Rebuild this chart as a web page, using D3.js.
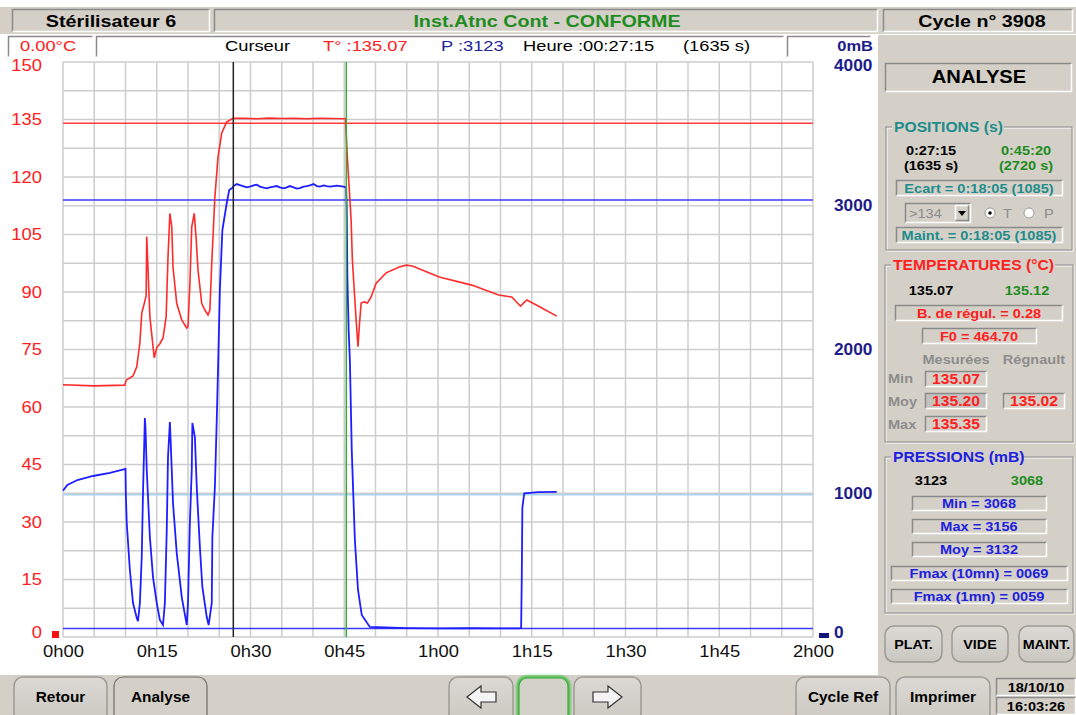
<!DOCTYPE html>
<html>
<head>
<meta charset="utf-8">
<script src="https://cdn.jsdelivr.net/npm/d3@7"></script>
<style>
  body { margin: 0; background: #fff; }
  svg { display: block; font-family: "Liberation Sans", Arial, sans-serif; }
</style>
</head>
<body>
<div id="chart"></div>
<script>
// ---- data (time in minutes) ----
var tempTime = [0, 5, 9.9, 10.1, 11.2, 11.8, 12.3, 12.6, 13.0, 13.3, 13.4, 13.9, 14.6, 15.0, 15.5, 16.0, 16.5, 16.8, 17.1, 17.4, 17.6, 18.2, 19.0, 19.8, 20.0, 20.3, 20.6, 21.0, 21.3, 21.6, 22.2, 22.7, 23.2, 23.5, 23.8, 24.3, 24.8, 25.4, 26.2, 27.2,
  29, 31, 33, 35, 37, 39, 41, 43, 45.2, 45.5, 46.1, 46.3, 46.9, 47.2, 47.4, 47.7, 48.2, 48.7, 49.3, 50.1, 51.7, 53.8, 54.9, 55.9, 60.2, 65.4, 69.7, 71.8, 73.2, 74.2, 76.1, 79.0];
var tempVal = [65.8, 65.5, 65.7, 67.0, 68.1, 70.5, 76.7, 84.5, 87.0, 89.0, 104.5, 83.5, 72.8, 75.5, 76.5, 78.0, 83.5, 99.0, 110.5, 107.0, 96.5, 87.0, 82.7, 80.6, 81.0, 92.0, 107.0, 110.5, 104.0, 95.7, 87.0, 85.3, 84.0, 85.3, 97.5, 114.8, 125.2, 131.5, 134.4, 135.3,
  135.3, 135.2, 135.35, 135.25, 135.3, 135.2, 135.3, 135.25, 135.2, 125.0, 108.8, 98.3, 82.7, 75.7, 80.9, 87.1, 87.4, 87.1, 88.7, 92.3, 95.0, 96.5, 97.0, 96.8, 93.9, 91.8, 89.2, 88.7, 86.3, 87.9, 86.3, 83.7];

var presTime = [0, 0.7, 2.3, 4.8, 7.5, 10.0, 10.05, 10.2, 10.7, 11.2, 11.8, 12.0, 12.3, 12.6, 12.8, 13.1, 13.2, 13.4, 13.9, 14.4, 15.0, 15.5, 16.0, 16.3, 16.6, 16.8, 17.1, 17.2, 17.6, 18.2, 19.0, 19.8, 20.0, 20.3, 20.6, 20.7, 21.1, 21.4, 21.9, 22.3, 23.0, 23.3, 23.8, 23.9, 24.3, 24.6, 24.8, 25.1, 25.5, 26.2, 26.6,
  27.0, 27.3, 27.8, 28.3, 28.8, 29.4, 29.9, 30.5, 31.0, 31.5, 32.1, 32.6, 33.1, 33.7, 34.2, 34.7, 35.3, 35.8, 36.3, 36.9, 37.4, 37.9, 38.5, 39.0, 39.5, 40.1, 40.6, 41.1, 41.7, 42.2, 42.7, 43.3, 43.8, 44.3, 44.9, 45.3,
  45.4, 45.5, 45.7, 45.9, 46.2, 46.7, 47.2, 47.8, 49.1, 55, 60, 65, 70, 73.0, 73.3, 73.4, 73.5, 73.8, 76, 79.0];
var presVal = [1018, 1057, 1092, 1120, 1141, 1169, 1002, 793, 466, 236, 132, 111, 236, 557, 1002, 1523, 1454, 1162, 696, 417, 236, 118, 83, 236, 744, 1252, 1496, 1391, 932, 584, 278, 83, 236, 793, 1162, 1489, 1391, 1043, 626, 348, 139, 83, 236, 696, 1043, 1510, 1857, 2414, 2831, 3019, 3110,
  3121, 3137, 3151, 3144, 3137, 3128, 3133, 3142, 3147, 3133, 3126, 3121, 3128, 3133, 3137, 3128, 3121, 3128, 3137, 3128, 3119, 3123, 3133, 3137, 3142, 3151, 3137, 3133, 3142, 3137, 3133, 3137, 3140, 3137, 3133, 3128,
  2984, 2504, 2136, 1927, 1300, 675, 327, 153, 70, 62, 60, 61, 60, 60, 62, 400, 900, 1000, 1008, 1009];

var xTickLabels = ["0h00", "0h15", "0h30", "0h45", "1h00", "1h15", "1h30", "1h45", "2h00"];
var tempTicks = [0, 15, 30, 45, 60, 75, 90, 105, 120, 135, 150];
var presTicks = [0, 1000, 2000, 3000, 4000];
var tempLimit = 134;                 // red threshold line
var presLimits = [3040, 990, 60];    // pressure reference lines
var presLimitColors = ["#3a3aff", "#a8d4f4", "#3a3aff"];
var cursorTimes = [27.25, 45.33];    // black and green cursors
var cursorColors = ["#222", "#3aa83a"];

// ---- setup ----
var W = 1076, H = 715;
var GRAY = "#d4d0c8";
var svg = d3.select("#chart").append("svg")
    .attr("width", W)
    .attr("height", H);
svg.append("rect").attr("width", W).attr("height", H).attr("fill", "#fff");

var x = d3.scaleLinear().domain([0, 120]).range([63, 813]);
var yT = d3.scaleLinear().domain([0, 150]).range([637, 62]);
var yP = d3.scaleLinear().domain([0, 4000]).range([637, 62]);

// text helper, stretched horizontally like the original screen
function txt(g, px, py, s, o) {
    o = o || {};
    var sx = o.sx || 1.12;
    return g.append("text")
        .attr("transform", "translate(" + px + "," + py + ") scale(" + sx + ",1)")
        .attr("text-anchor", o.anchor || "start")
        .attr("dy", "0.36em")
        .style("font-size", (o.size || 13) + "px")
        .style("font-weight", o.bold === false ? "normal" : "bold")
        .style("fill", o.color || "#000")
        .text(s);
}

// sunken / raised 3D box
function bevel(g, bx, by, w, h, o) {
    o = o || {};
    g.append("rect").attr("x", bx).attr("y", by).attr("width", w).attr("height", h)
        .attr("fill", o.fill || GRAY);
    var tl = o.raised ? "#fff" : "#8a8a8a", br = o.raised ? "#8a8a8a" : "#fff";
    g.append("path").attr("d", "M" + (bx + 0.5) + "," + (by + h) + "V" + (by + 0.5) + "H" + (bx + w))
        .attr("fill", "none").attr("stroke", tl).attr("stroke-width", 1.5);
    g.append("path").attr("d", "M" + (bx + 0.5) + "," + (by + h - 0.5) + "H" + (bx + w - 0.5) + "V" + (by + 0.5))
        .attr("fill", "none").attr("stroke", br).attr("stroke-width", 1.5);
}

// etched group box with title
function groupBox(g, bx, by, w, h, title, color, tw) {
    g.append("rect").attr("x", bx + 1).attr("y", by + 1).attr("width", w).attr("height", h)
        .attr("fill", "none").attr("stroke", "#fff");
    g.append("rect").attr("x", bx).attr("y", by).attr("width", w).attr("height", h)
        .attr("fill", "none").attr("stroke", "#8a8a8a");
    g.append("rect").attr("x", bx + 6).attr("y", by - 8).attr("width", tw).attr("height", 16).attr("fill", GRAY);
    txt(g, bx + 8, by, title, { color: color, size: 14 });
}

function button(g, bx, by, w, h, label, o) {
    o = o || {};
    g.append("rect").attr("x", bx).attr("y", by).attr("width", w).attr("height", h)
        .attr("rx", 9).attr("fill", o.fill || "url(#btnGrad)")
        .attr("stroke", o.stroke || "#9c9a96").attr("stroke-width", o.sw || 1.5);
    if (label) txt(g, bx + w / 2, by + (o.ty || h / 2), label, { anchor: "middle", size: o.size || 14, sx: 1.1 });
}

var defs = svg.append("defs");
var grad = defs.append("linearGradient").attr("id", "btnGrad").attr("x1", 0).attr("y1", 0).attr("x2", 0).attr("y2", 1);
grad.append("stop").attr("offset", "0%").attr("stop-color", "#dcd9d4");
grad.append("stop").attr("offset", "100%").attr("stop-color", "#cbc7c1");
defs.append("filter").attr("id", "glow").append("feGaussianBlur").attr("stdDeviation", 1.2);

// ---- header ----
var head = svg.append("g");
head.append("rect").attr("x", 0).attr("y", 7).attr("width", W).attr("height", 27).attr("fill", GRAY);
bevel(head, 12, 9, 198, 23);
bevel(head, 214, 9, 664, 23);
bevel(head, 883, 9, 190, 23);
txt(head, 111, 21, "Stérilisateur 6", { anchor: "middle", size: 17, sx: 1.16 });
txt(head, 547, 21, "Inst.Atnc Cont - CONFORME", { anchor: "middle", size: 17, sx: 1.16, color: "#1e8c1e" });
txt(head, 982, 21, "Cycle n° 3908", { anchor: "middle", size: 17, sx: 1.16 });

// cursor row
var row = svg.append("g");
bevel(row, 8, 36, 85, 21, { fill: "#fff" });
bevel(row, 96, 36, 688, 21, { fill: "#fff" });
bevel(row, 787, 36, 84, 21, { fill: "#fff" });
txt(row, 20, 46, "0.00°C", { size: 15, bold: false, sx: 1.22, color: "#ff2020" });
txt(row, 225, 46, "Curseur", { size: 15, bold: false, sx: 1.22 });
txt(row, 323, 46, "T° :135.07", { size: 15, bold: false, sx: 1.22, color: "#ff2020" });
txt(row, 441, 46, "P :3123", { size: 15, bold: false, sx: 1.22, color: "#22229a" });
txt(row, 523, 46, "Heure :00:27:15", { size: 15, bold: false, sx: 1.22 });
txt(row, 683, 46, "(1635 s)", { size: 15, bold: false, sx: 1.22 });
txt(svg, 873, 46, "0mB", { size: 15, anchor: "end", sx: 1.1, color: "#1c1c8a" });

// ---- plot ----
var plot = svg.append("g");
plot.selectAll(".vgrid").data(d3.range(0, 121, 5)).enter().append("line")
    .attr("x1", function(d) { return x(d); }).attr("x2", function(d) { return x(d); })
    .attr("y1", yT(150)).attr("y2", yT(0))
    .attr("stroke", "#cdcdcd").attr("stroke-width", 1.5);
plot.selectAll(".hgrid").data(d3.range(0, 151, 7.5)).enter().append("line")
    .attr("x1", x(0)).attr("x2", x(120))
    .attr("y1", function(d) { return yT(d); }).attr("y2", function(d) { return yT(d); })
    .attr("stroke", "#cdcdcd").attr("stroke-width", 1.5);

function stretchTicks(ax, sx) {
    ax.selectAll("text").each(function() {
        var t = d3.select(this);
        t.attr("x", (+t.attr("x") || 0) / sx).attr("transform", "scale(" + sx + ",1)");
    });
}
// first and last labels sit a little inside the plot, as on the screen
function nudgeEnds(ax, top, bottom) {
    ax.selectAll(".tick text").attr("dy", function(d) {
        if (d === top) return "0.52em";
        if (d === 0) return "0.06em";
        return "0.32em";
    });
}

var axL = plot.append("g").attr("transform", "translate(" + x(0) + ",0)")
    .call(d3.axisLeft(yT).tickValues(tempTicks).tickSize(0).tickPadding(21));
axL.attr("font-family", null).attr("font-size", 16);
axL.select(".domain").remove();
axL.selectAll("text").attr("fill", "#ff2020");
stretchTicks(axL, 1.15);
nudgeEnds(axL, 150);

var axR = plot.append("g").attr("transform", "translate(" + x(120) + ",0)")
    .call(d3.axisRight(yP).tickValues(presTicks).tickSize(0).tickPadding(21).tickFormat(d3.format("d")));
axR.attr("font-family", null).attr("font-size", 16).attr("font-weight", "bold");
axR.select(".domain").remove();
axR.selectAll("text").attr("fill", "#1c1c8a");
stretchTicks(axR, 1.08);
nudgeEnds(axR, 4000);

var axB = plot.append("g").attr("transform", "translate(0," + yT(0) + ")")
    .call(d3.axisBottom(x).tickValues(d3.range(0, 121, 15)).tickSize(0).tickPadding(9)
        .tickFormat(function(d, i) { return xTickLabels[i]; }));
axB.attr("font-family", null).attr("font-size", 16);
axB.select(".domain").remove();
axB.selectAll("text").attr("fill", "#111");
stretchTicks(axB, 1.15);

// little series markers
plot.append("rect").attr("x", x(0) - 11).attr("y", yT(0) - 6).attr("width", 7).attr("height", 7).attr("fill", "#ff1010");
plot.append("rect").attr("x", x(120) + 6).attr("y", yT(0) - 4).attr("width", 10).attr("height", 5).attr("fill", "#14147a");

// reference lines
plot.append("line").attr("x1", x(0)).attr("x2", x(120))
    .attr("y1", yT(tempLimit)).attr("y2", yT(tempLimit))
    .attr("stroke", "#ff3a3a").attr("stroke-width", 1.5);
plot.selectAll(".plim").data(presLimits).enter().append("line")
    .attr("x1", x(0)).attr("x2", x(120))
    .attr("y1", function(d) { return yP(d); }).attr("y2", function(d) { return yP(d); })
    .attr("stroke", function(d, i) { return presLimitColors[i]; }).attr("stroke-width", 1.5);

// series
var tempData = tempTime.map(function(t, i) { return [t, tempVal[i]]; });
var presData = presTime.map(function(t, i) { return [t, presVal[i]]; });

plot.append("path").datum(tempData)
    .attr("fill", "none").attr("stroke", "#ff2a2a").attr("stroke-width", 1.6)
    .attr("d", d3.line().x(function(d) { return x(d[0]); }).y(function(d) { return yT(d[1]); }));
plot.append("path").datum(presData)
    .attr("fill", "none").attr("stroke", "#1e1eff").attr("stroke-width", 1.8)
    .attr("d", d3.line().x(function(d) { return x(d[0]); }).y(function(d) { return yP(d[1]); }));

// cursors
plot.selectAll(".cursor").data(cursorTimes).enter().append("line")
    .attr("x1", function(d) { return x(d); }).attr("x2", function(d) { return x(d); })
    .attr("y1", yT(150)).attr("y2", yT(0))
    .attr("stroke", function(d, i) { return cursorColors[i]; }).attr("stroke-width", 1.5);

// ---- right panel ----
var rp = svg.append("g");
rp.append("rect").attr("x", 878).attr("y", 35).attr("width", W - 878).attr("height", 640).attr("fill", GRAY);
bevel(rp, 885, 63, 187, 29);
txt(rp, 979, 77, "ANALYSE", { anchor: "middle", size: 18, sx: 1.12 });

groupBox(rp, 886, 127, 186, 123, "POSITIONS (s)", "#1f8c8c", 112);
txt(rp, 931, 150, "0:27:15", { anchor: "middle" });
txt(rp, 931, 165, "(1635 s)", { anchor: "middle" });
txt(rp, 1026, 150, "0:45:20", { anchor: "middle", color: "#1e8c1e" });
txt(rp, 1026, 165, "(2720 s)", { anchor: "middle", color: "#1e8c1e" });
bevel(rp, 896, 180, 167, 16);
txt(rp, 979, 188, "Ecart = 0:18:05 (1085)", { anchor: "middle", color: "#1f8c8c" });
bevel(rp, 905, 203, 66, 20);
txt(rp, 909, 213, ">134", { color: "#8c8c8c", bold: false, size: 13 });
bevel(rp, 955, 205, 14, 16, { raised: true });
rp.append("path").attr("d", "M958,211 L966,211 L962,216 Z").attr("fill", "#000");
rp.append("circle").attr("cx", 990).attr("cy", 213).attr("r", 5).attr("fill", "#fff").attr("stroke", "#9a9a9a");
rp.append("circle").attr("cx", 990).attr("cy", 213).attr("r", 1.8).attr("fill", "#000");
txt(rp, 1003, 213, "T", { color: "#8c8c8c", bold: false });
rp.append("circle").attr("cx", 1029).attr("cy", 213).attr("r", 5).attr("fill", "#fff").attr("stroke", "#9a9a9a");
txt(rp, 1044, 213, "P", { color: "#8c8c8c", bold: false });
bevel(rp, 896, 227, 167, 16);
txt(rp, 979, 235, "Maint. = 0:18:05 (1085)", { anchor: "middle", color: "#1f8c8c" });

groupBox(rp, 885, 265, 188, 177, "TEMPERATURES (°C)", "#ff2020", 164);
txt(rp, 931, 290, "135.07", { anchor: "middle" });
txt(rp, 1027, 290, "135.12", { anchor: "middle", color: "#1e8c1e" });
bevel(rp, 895, 305, 168, 16);
txt(rp, 979, 313, "B. de régul. = 0.28", { anchor: "middle", color: "#ff2020" });
bevel(rp, 922, 328, 115, 16);
txt(rp, 979, 336, "F0 = 464.70", { anchor: "middle", color: "#ff2020" });
txt(rp, 956, 359, "Mesurées", { anchor: "middle", color: "#8c8c8c" });
txt(rp, 1034, 359, "Régnault", { anchor: "middle", color: "#8c8c8c" });
txt(rp, 888, 378, "Min", { color: "#8c8c8c" });
txt(rp, 888, 401, "Moy", { color: "#8c8c8c" });
txt(rp, 888, 424, "Max", { color: "#8c8c8c" });
bevel(rp, 925, 371, 62, 16);
txt(rp, 956, 379, "135.07", { anchor: "middle", color: "#ff2020", size: 14 });
bevel(rp, 925, 393, 62, 16, { fill: "#c4c2bf" });
txt(rp, 956, 401, "135.20", { anchor: "middle", color: "#ff2020", size: 14 });
bevel(rp, 925, 416, 62, 16);
txt(rp, 956, 424, "135.35", { anchor: "middle", color: "#ff2020", size: 14 });
bevel(rp, 1003, 393, 62, 16);
txt(rp, 1034, 401, "135.02", { anchor: "middle", color: "#ff2020", size: 14 });

groupBox(rp, 885, 457, 188, 156, "PRESSIONS (mB)", "#2020e0", 132);
txt(rp, 931, 480, "3123", { anchor: "middle" });
txt(rp, 1027, 480, "3068", { anchor: "middle", color: "#1e8c1e" });
bevel(rp, 912, 496, 135, 15);
txt(rp, 979, 503, "Min = 3068", { anchor: "middle", color: "#2020e0" });
bevel(rp, 912, 519, 135, 15);
txt(rp, 979, 526, "Max = 3156", { anchor: "middle", color: "#2020e0" });
bevel(rp, 912, 542, 135, 15);
txt(rp, 979, 549, "Moy = 3132", { anchor: "middle", color: "#2020e0" });
bevel(rp, 891, 566, 177, 15);
txt(rp, 979, 573, "Fmax (10mn) = 0069", { anchor: "middle", color: "#2020e0" });
bevel(rp, 891, 589, 177, 15);
txt(rp, 979, 596, "Fmax (1mn) = 0059", { anchor: "middle", color: "#2020e0" });

button(rp, 885, 626, 57, 36, "PLAT.", { size: 13 });
button(rp, 952, 626, 56, 36, "VIDE", { size: 13 });
button(rp, 1019, 626, 55, 36, "MAINT.", { size: 13 });

// ---- bottom bar ----
var bb = svg.append("g");
bb.append("rect").attr("x", 0).attr("y", 675).attr("width", W).attr("height", 40).attr("fill", GRAY);
button(bb, 14, 677, 93, 46, "Retour", { ty: 20 });
button(bb, 114, 677, 93, 46, "Analyse", { ty: 20, fill: GRAY, stroke: "#6e6c68", sw: 1.2 });
button(bb, 449, 677, 64, 46, null, { ty: 20 });
bb.append("rect").attr("x", 518).attr("y", 677).attr("width", 51).attr("height", 46).attr("rx", 9)
    .attr("fill", "none").attr("stroke", "#46c046").attr("stroke-width", 3).attr("filter", "url(#glow)");
bb.append("rect").attr("x", 519).attr("y", 678).attr("width", 49).attr("height", 44).attr("rx", 8)
    .attr("fill", "#d2d2c8").attr("stroke", "#3aa83a").attr("stroke-width", 1.2);
button(bb, 574, 677, 67, 46, null, { ty: 20 });
bb.append("path").attr("d", "M467,697 L481,686 L481,692 L496,692 L496,702 L481,702 L481,708 Z")
    .attr("fill", "#f4f4f4").attr("stroke", "#333").attr("stroke-width", 1.2);
bb.append("path").attr("d", "M622,697 L608,686 L608,692 L593,692 L593,702 L608,702 L608,708 Z")
    .attr("fill", "#f4f4f4").attr("stroke", "#333").attr("stroke-width", 1.2);
button(bb, 796, 677, 94, 46, "Cycle Ref", { ty: 20 });
button(bb, 896, 677, 94, 46, "Imprimer", { ty: 20 });
bevel(bb, 996, 678, 80, 18);
bevel(bb, 996, 697, 80, 18);
txt(bb, 1036, 687, "18/10/10", { anchor: "middle", size: 13 });
txt(bb, 1036, 706, "16:03:26", { anchor: "middle", size: 13 });
</script>
</body>
</html>
